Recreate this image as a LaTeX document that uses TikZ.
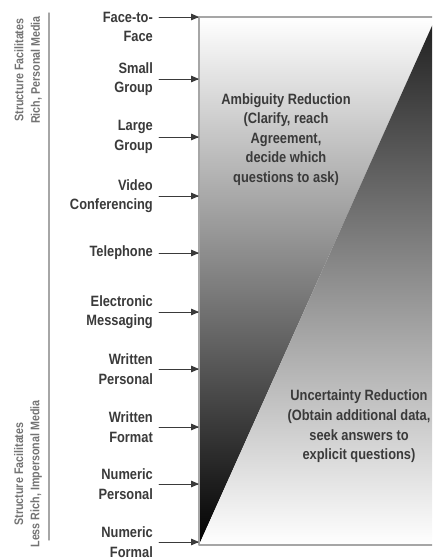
\documentclass[tikz,border=0pt]{standalone}
\usepackage{fontspec}
\newfontfamily\narrowsf{Liberation Sans}[FakeStretch=0.86]
\usetikzlibrary{arrows}
\definecolor{txtgray}{HTML}{3A3A3A}
\definecolor{rulegray}{HTML}{A6A6A6}
\tikzset{
  medium/.style={font=\narrowsf\bfseries\fontsize{15}{19.5}\selectfont, text=txtgray, align=right, anchor=east, inner xsep=6pt, inner ysep=0pt},
  reduction/.style={font=\narrowsf\bfseries\fontsize{15}{19.7}\selectfont, text=txtgray, align=center, inner sep=0pt},
  side/.style={font=\narrowsf\bfseries\fontsize{12.5}{16.5}\selectfont, text=black!55, align=center, rotate=90, inner sep=0pt},
  feed/.style={line width=0.8pt, draw=txtgray},
  frame/.style={line width=1.4pt, draw=rulegray}
}
\begin{document}
\begin{tikzpicture}[line cap=round,line join=round,>=triangle 45,x=1bp,y=-1bp]
\useasboundingbox (0,0) rectangle (432,559);
\clip (0,0) rectangle (432,559);
% corners of the box
\coordinate (tl) at (199,17);
\coordinate (tr) at (436,17);
\coordinate (bl) at (199,545);
\coordinate (br) at (436,545);
\shade[top color=white, middle color=black!24, bottom color=black] (tl) -- (tr) -- (bl) -- cycle;
\shade[top color=black!88, middle color=black!27, bottom color=white] (tr) -- (br) -- (bl) -- cycle;
\draw[frame] (tr) -- (tl) -- (bl) -- (br);
% media on the left
\foreach \n/\ya/\yl/\txt in {1/17/27/{Face-to-\\Face}, 2/79/79/{Small\\Group}, 3/137/137/{Large\\Group},
    4/196/196/{Video\\Conferencing}, 5/253/253/{Telephone}, 6/312/312/{Electronic\\Messaging},
    7/369/369/{Written\\Personal}, 8/427/427/{Written\\Format}, 9/484/484/{Numeric\\Personal},
    10/542/542/{Numeric\\Formal}}{
  \coordinate (in\n) at (199,\ya);
  \node[medium] (lab\n) at (159,\yl) {\txt};
  \draw[feed,->] (lab\n.east |- in\n) -- (in\n);
}
% scale at the far left
\coordinate (scaletop) at (49,13);
\coordinate (scalebot) at (49,540);
\draw[frame] (scaletop) -- (scalebot);
\node[side] (rich) at (28,70) {Structure Facilitates\\Rich, Personal Media};
\node[side] (lean) at (28,474) {Structure Facilitates\\Less Rich, Impersonal Media};
% the two regions
\node[reduction] (ambiguity) at (286,139.5) {Ambiguity Reduction\\(Clarify, reach\\Agreement,\\decide which\\questions to ask)};
\node[reduction] (uncertainty) at (359,426.5) {Uncertainty Reduction\\(Obtain additional data,\\seek answers to\\explicit questions)};
\end{tikzpicture}
\end{document}
